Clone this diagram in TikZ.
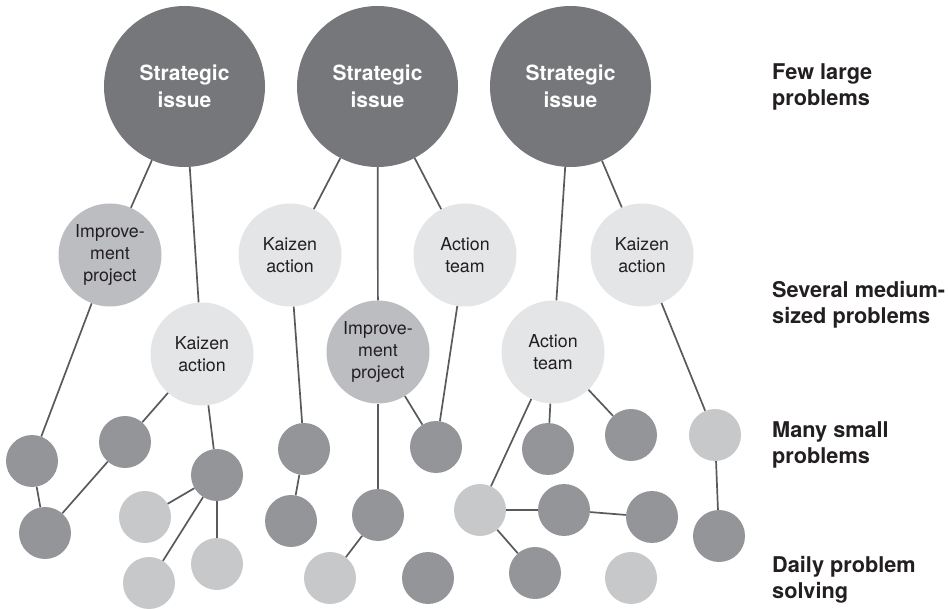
\documentclass[tikz,border=0pt]{standalone}
\usepackage{fontspec}
\setmainfont{TeX Gyre Heros}
\definecolor{issuegray}{HTML}{76777A}
\definecolor{projgray}{HTML}{BCBDC0}
\definecolor{actgray}{HTML}{E4E5E6}
\definecolor{dotdark}{HTML}{939598}
\definecolor{dotlight}{HTML}{C7C8CA}
\definecolor{linkgray}{HTML}{5A5A5D}
\definecolor{textdark}{HTML}{231F20}
\begin{document}
\begin{tikzpicture}[x=1pt, y=-1pt,
    issue/.style={circle, fill=issuegray, inner sep=0pt, minimum size=161pt, align=center, text=white, font=\fontsize{21}{26.5}\selectfont\bfseries},
    proj/.style={circle, fill=projgray, inner sep=0pt, minimum size=103pt, align=center, text=textdark, font=\fontsize{17.8}{22.4}\selectfont},
    act/.style={proj, fill=actgray},
    dark/.style={circle, fill=dotdark, inner sep=0pt, minimum size=52pt},
    light/.style={dark, fill=dotlight},
    link/.style={draw=linkgray, line width=1.7pt},
    level/.style={anchor=west, inner sep=0pt, align=left, text=textdark, font=\fontsize{21.7}{25.5}\selectfont\bfseries},
  ]
    \useasboundingbox (0,0) rectangle (948,609);
    \node[issue] (s1) at (184.5,86.5) {Strategic\\issue};
    \node[issue] (s2) at (377.5,86.5) {Strategic\\issue};
    \node[issue] (s3) at (570.5,86.5) {Strategic\\issue};
    \node[proj] (ip1) at (110,255) {Improve-\\ment\\project};
    \node[act] (ka1) at (202,354) {Kaizen\\action};
    \node[act] (ka2) at (290,255) {Kaizen\\action};
    \node[proj] (ip2) at (378,352) {Improve-\\ment\\project};
    \node[act] (at1) at (465,255) {Action\\team};
    \node[act] (at2) at (553,352) {Action\\team};
    \node[act] (ka3) at (642,255) {Kaizen\\action};
    \node[dark] (d1) at (32,461) {};   \node[dark] (d2) at (125,442) {};   \node[dark] (d3) at (217,475) {};
    \node[dark] (d4) at (45,533) {};   \node[light] (l1) at (145,517) {};  \node[light] (l2) at (217,564) {};
    \node[light] (l3) at (149,583) {};
    \node[dark] (d5) at (304,449) {};  \node[dark] (d6) at (291,521) {};   \node[dark] (d7) at (436,447) {};
    \node[dark] (d8) at (378,515) {};  \node[light] (l4) at (330,578) {};  \node[dark] (d9) at (428,578) {};
    \node[dark] (d10) at (548,449) {}; \node[dark] (d11) at (631,435) {};  \node[light] (l5) at (480,510) {};
    \node[dark] (d12) at (564,510) {}; \node[dark] (d13) at (652,517) {};  \node[dark] (d14) at (535,573) {};
    \node[light] (l6) at (631,578) {};
    \node[light] (l7) at (715,435) {}; \node[dark] (d15) at (719,536) {};
    \draw[link] (s1) -- (ip1);  \draw[link] (s1) -- (ka1);
    \draw[link] (s2) -- (ka2);  \draw[link] (s2) -- (ip2);  \draw[link] (s2) -- (at1);
    \draw[link] (s3) -- (at2);  \draw[link] (s3) -- (ka3);
    \draw[link] (ip1) -- (d1);  \draw[link] (d1) -- (d4);   \draw[link] (d4) -- (d2);   \draw[link] (d2) -- (ka1);
    \draw[link] (ka1) -- (d3);  \draw[link] (d3) -- (l1);   \draw[link] (d3) -- (l3);   \draw[link] (d3) -- (l2);
    \draw[link] (ka2) -- (d5);  \draw[link] (d5) -- (d6);
    \draw[link] (ip2) -- (d8);  \draw[link] (d8) -- (l4);   \draw[link] (ip2) -- (d7);  \draw[link] (at1) -- (d7);
    \draw[link] (at2) -- (l5);  \draw[link] (at2) -- (d10); \draw[link] (at2) -- (d11);
    \draw[link] (l5) -- (d12);  \draw[link] (d12) -- (d13); \draw[link] (l5) -- (d14);
    \draw[link] (ka3) -- (l7);  \draw[link] (l7) -- (d15);
    \node[level] (few) at (772,87) {Few large\\problems};
    \node[level] (several) at (772,305) {Several medium-\\sized problems};
    \node[level] (many) at (772,445) {Many small\\problems};
    \node[level] (daily) at (772,580) {Daily problem\\solving};
  \end{tikzpicture}
\end{document}
